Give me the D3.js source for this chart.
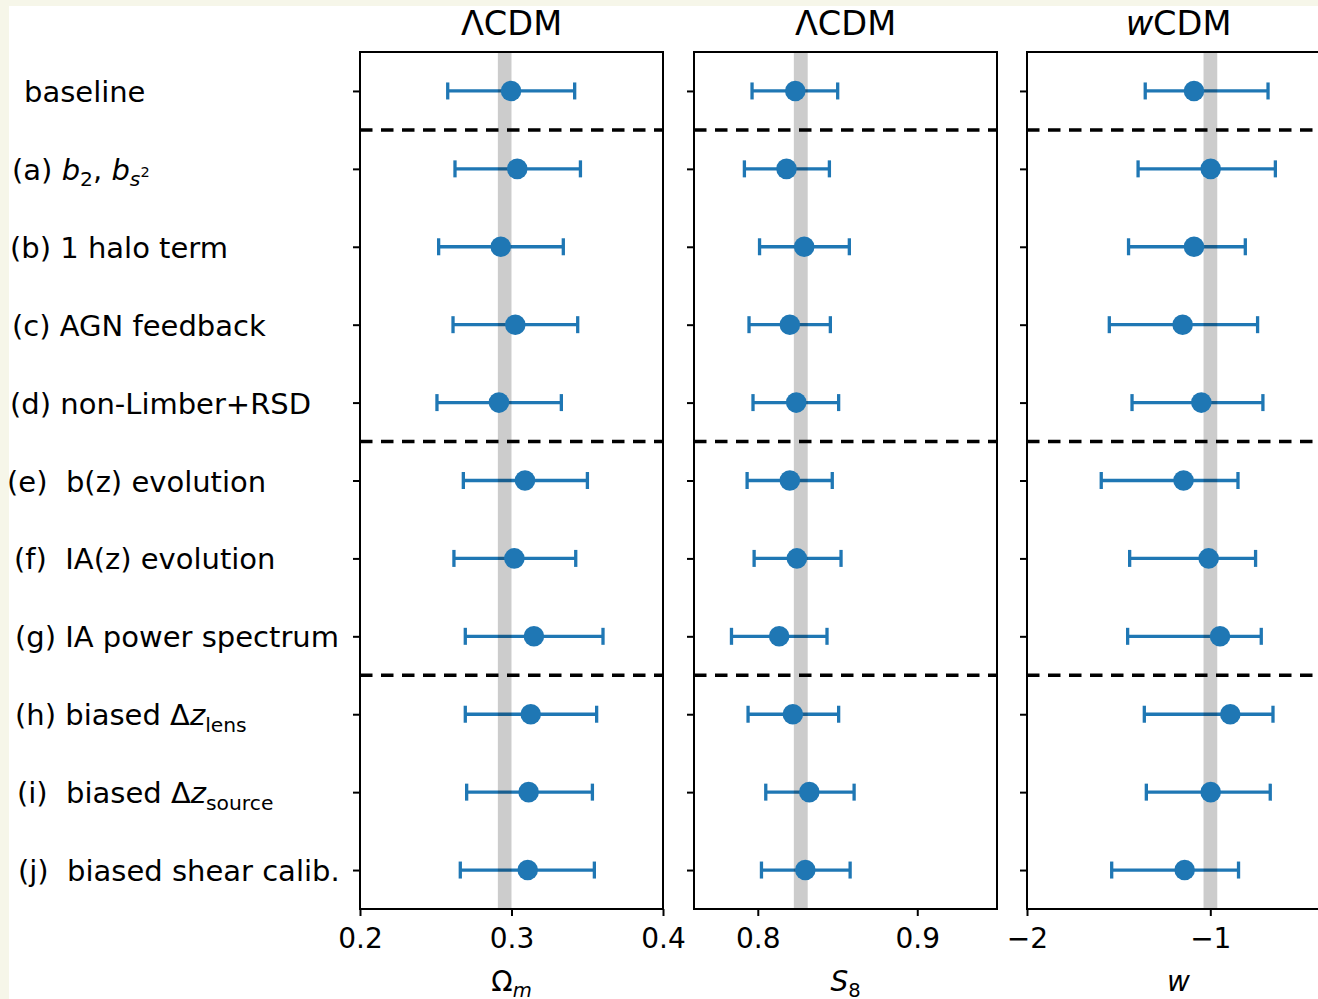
<!DOCTYPE html>
<html>
<head>
<meta charset="utf-8">
<script src="https://cdnjs.cloudflare.com/ajax/libs/d3/7.8.5/d3.min.js"></script>
<style>
body {margin: 0; background: #f6f6e9; overflow: hidden;}
text {font-family: "DejaVu Sans", sans-serif; white-space: pre; fill: #000;}
</style>
</head>
<body>
<svg id="fig" width="1318" height="999"></svg>
<script>
// row labels, one list of text pieces per row (it = italic, sub = subscript, ss = superscript on a subscript)
var row_labels = [
    [{t: "baseline"}],
    [{t: "(a) "}, {t: "b", it: 1}, {t: "2", sub: 1}, {t: ", "}, {t: "b", it: 1}, {t: "s", it: 1, sub: 1}, {t: "2", ss: 1}],
    [{t: "(b) 1 halo term"}],
    [{t: "(c) AGN feedback"}],
    [{t: "(d) non-Limber+RSD"}],
    [{t: "(e)  b(z) evolution"}],
    [{t: "(f)  IA(z) evolution"}],
    [{t: "(g) IA power spectrum"}],
    [{t: "(h) biased Δ"}, {t: "z", it: 1}, {t: "lens", sub: 1}],
    [{t: "(i)  biased Δ"}, {t: "z", it: 1}, {t: "source", sub: 1}],
    [{t: "(j)  biased shear calib."}]
];
var label_x = [24, 12, 10, 12, 10, 7, 14, 15, 15, 17, 18];

// Omega_m (LCDM)
var om_mid = [0.2997, 0.3038, 0.2929, 0.3025, 0.2917, 0.3089, 0.3019, 0.3148, 0.3127, 0.3113, 0.3107];
var om_lo  = [0.2579, 0.2627, 0.2519, 0.2614, 0.2508, 0.2682, 0.2620, 0.2695, 0.2695, 0.2704, 0.2662];
var om_hi  = [0.3417, 0.3455, 0.3342, 0.3437, 0.3329, 0.3501, 0.3424, 0.3604, 0.3562, 0.3534, 0.3547];
var om_band = [0.291, 0.300];
var om_ticks = [0.2, 0.3, 0.4];

// S8 (LCDM)
var s8_mid = [0.8235, 0.8180, 0.8291, 0.8201, 0.8241, 0.8201, 0.8245, 0.8134, 0.8220, 0.8323, 0.8298];
var s8_lo  = [0.7964, 0.7916, 0.8011, 0.7945, 0.7970, 0.7933, 0.7977, 0.7835, 0.7939, 0.8050, 0.8023];
var s8_hi  = [0.8501, 0.8449, 0.8574, 0.8455, 0.8507, 0.8467, 0.8522, 0.8434, 0.8507, 0.8604, 0.8579];
var s8_band = [0.8226, 0.8313];
var s8_ticks = [0.8, 0.9];

// w (wCDM)
var w_mid = [-1.089, -0.998, -1.089, -1.151, -1.049, -1.146, -1.009, -0.947, -0.891, -0.998, -1.140];
var w_lo  = [-1.355, -1.394, -1.446, -1.551, -1.427, -1.595, -1.440, -1.451, -1.360, -1.349, -1.538];
var w_hi  = [-0.685, -0.645, -0.809, -0.742, -0.713, -0.849, -0.753, -0.722, -0.658, -0.673, -0.846];
var w_band = [-1.037, -0.962];
var w_ticks = [-2, -1];

// group separators sit between rows
var separators = [0.5, 4.5, 7.5];

var blue = "#1f77b4";
var fs = 28;

var panels = [
    {left: 360, domain: [0.2, 0.4], ticks: om_ticks, fmt: d3.format(".1f"),
     mid: om_mid, lo: om_lo, hi: om_hi, band: om_band,
     title: [{t: "ΛCDM"}], xlab: [{t: "Ω"}, {t: "m", it: 1, sub: 1}]},
    {left: 694, domain: [0.76, 0.95], ticks: s8_ticks, fmt: d3.format(".1f"),
     mid: s8_mid, lo: s8_lo, hi: s8_hi, band: s8_band,
     title: [{t: "ΛCDM"}], xlab: [{t: "S", it: 1}, {t: "8", sub: 1}]},
    {left: 1027, domain: [-2, -0.347], ticks: w_ticks, fmt: d3.format("d"),
     mid: w_mid, lo: w_lo, hi: w_hi, band: w_band,
     title: [{t: "w", it: 1}, {t: "CDM"}], xlab: [{t: "w", it: 1}]}
];
var pw = 303, p_top = 52, p_bot = 909;

var svg = d3.select("#fig");
svg.append("rect").attr("x", 9).attr("y", 6).attr("width", 1400).attr("height", 1100).attr("fill", "#fff");

var y = d3.scaleLinear().domain([-0.5, 10.5]).range([p_top, p_bot]);

// writes a list of pieces into a text element, with sub/superscripts
function rich_text(sel, pieces, size) {
    var prev = 0;
    pieces.forEach(function(p) {
	var shift = 0, sz = size;
	if (p.sub) { shift = 0.22 * size; sz = 0.7 * size; }
	if (p.ss) { shift = -0.1 * size; sz = 0.5 * size; }
	sel.append("tspan")
	    .attr("dy", shift - prev)
	    .style("font-size", sz + "px")
	    .style("font-style", p.it ? "italic" : "normal")
	    .text(p.t);
	prev = shift;
    });
    return sel;
}

var rows = d3.range(row_labels.length);

panels.forEach(function(p, k) {
    var x = d3.scaleLinear().domain(p.domain).range([p.left, p.left + pw]);
    var g = svg.append("g");
    var data = rows.map(function(i) { return {i: i, m: p.mid[i], lo: p.lo[i], hi: p.hi[i]}; });

    // dashed separators
    g.selectAll(".sep").data(separators).enter().append("line")
	.attr("x1", p.left).attr("x2", p.left + pw)
	.attr("y1", function(d) { return y(d); }).attr("y2", function(d) { return y(d); })
	.style("stroke", "#000").style("stroke-width", 3.5)
	.style("stroke-dasharray", "12.5,8.5");

    // error bars
    g.selectAll(".eb").data(data).enter().append("line")
	.attr("x1", function(d) { return x(d.lo); }).attr("x2", function(d) { return x(d.hi); })
	.attr("y1", function(d) { return y(d.i); }).attr("y2", function(d) { return y(d.i); })
	.style("stroke", blue).style("stroke-width", 3.3);
    ["lo", "hi"].forEach(function(key) {
	g.selectAll(".cap_" + key).data(data).enter().append("line")
	    .attr("x1", function(d) { return x(d[key]); }).attr("x2", function(d) { return x(d[key]); })
	    .attr("y1", function(d) { return y(d.i) - 8.5; }).attr("y2", function(d) { return y(d.i) + 8.5; })
	    .style("stroke", blue).style("stroke-width", 3.3);
    });

    // reference band
    g.append("rect")
	.attr("x", x(p.band[0])).attr("width", x(p.band[1]) - x(p.band[0]))
	.attr("y", p_top).attr("height", p_bot - p_top)
	.style("fill", "rgba(0,0,0,0.2)");

    // markers
    g.selectAll(".pt").data(data).enter().append("circle")
	.attr("cx", function(d) { return x(d.m); })
	.attr("cy", function(d) { return y(d.i); })
	.attr("r", 10.3)
	.style("fill", blue);

    // frame
    g.append("rect")
	.attr("x", p.left).attr("y", p_top).attr("width", pw).attr("height", p_bot - p_top)
	.style("fill", "none").style("stroke", "#000").style("stroke-width", 2);

    // x axis
    var xa = g.append("g").attr("transform", "translate(0," + p_bot + ")")
	.call(d3.axisBottom(x).tickValues(p.ticks).tickFormat(p.fmt).tickSize(7).tickSizeOuter(0).tickPadding(12));
    xa.select(".domain").remove();
    xa.selectAll(".tick line").style("stroke-width", 2);
    xa.selectAll("text").style("font-size", fs + "px").style("font-family", "DejaVu Sans");

    // y ticks
    var ya = g.append("g").attr("transform", "translate(" + p.left + ",0)")
	.call(d3.axisLeft(y).tickValues(rows).tickFormat("").tickSize(7).tickSizeOuter(0));
    ya.select(".domain").remove();
    ya.selectAll(".tick line").style("stroke-width", 2);

    // title and x label
    rich_text(g.append("text")
	      .attr("x", p.left + pw / 2).attr("y", 35)
	      .attr("text-anchor", "middle"), p.title, 33.6);
    rich_text(g.append("text")
	      .attr("x", p.left + pw / 2).attr("y", 991)
	      .attr("text-anchor", "middle"), p.xlab, fs);
});

// row labels on the first panel
rows.forEach(function(i) {
    rich_text(svg.append("text")
	      .attr("x", label_x[i])
	      .attr("y", y(i) + 11), row_labels[i], 29);
});
</script>
</body>
</html>
